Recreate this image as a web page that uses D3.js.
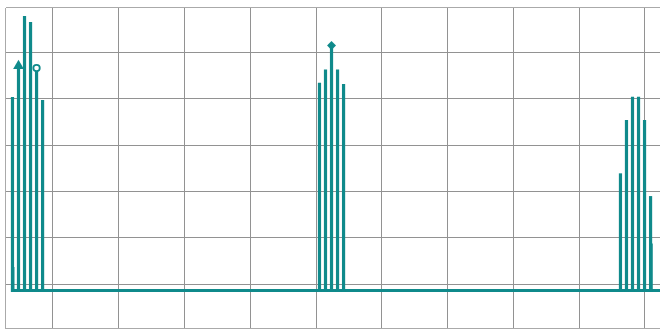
<!DOCTYPE html>
<html>
<head>
<meta charset="utf-8">
<script src="https://cdn.jsdelivr.net/npm/d3@7"></script>
<style>
  html, body { margin: 0; padding: 0; background: #fff; }
  svg { display: block; }
</style>
</head>
<body>
<svg id="chart" width="660" height="331"></svg>
<script>
// Sample positions (index) and peak heights for the three bursts
const burstA = [0, 1, 2, 3, 4, 5];
const burstAVal = [83.4, 96.8, 118.3, 115.7, 95.9, 82.1];
const burstB = [51, 52, 53, 54, 55];
const burstBVal = [89.6, 95.3, 105.6, 95.3, 89.0];
const burstC = [101, 102, 103, 104, 105, 106];
const burstCVal = [50.5, 73.5, 83.5, 83.5, 73.5, 40.7];

// Faint secondary trace
const traceIdx = [0.25, 4.85, 106.3];
const traceVal = [10.1, 5.4, 20.3];

// Marked peaks
const markIdx = [1, 4, 53];
const markShape = ["triangle", "circle", "diamond"];

// Grid positions in data units
const gridX = [6.73, 17.65, 28.58, 39.50, 50.43, 61.35, 72.28, 83.20, 94.13, 105.05];
const gridY = [2.7, 22.7, 42.7, 62.7, 82.7, 102.7];

const xDomain = [-1.16, 107.9];
const yDomain = [-16.4, 122];

const W = 660, H = 331;
const plot = { left: 5.5, top: 7.5, right: 662, bottom: 328.5 };
const teal = "#0f8a8b";

const svg = d3.select("#chart");
const x = d3.scaleLinear().domain(xDomain).range([plot.left, plot.right]);
const y = d3.scaleLinear().domain(yDomain).range([plot.bottom, plot.top]);

// Grid
const grid = svg.append("g").attr("stroke", "#929292").attr("stroke-width", 1).attr("shape-rendering", "crispEdges");
grid.selectAll("line.gx").data(gridX).join("line").attr("class", "gx")
  .attr("x1", d => x(d)).attr("x2", d => x(d))
  .attr("y1", plot.top).attr("y2", plot.bottom);
grid.selectAll("line.gy").data(gridY).join("line").attr("class", "gy")
  .attr("x1", plot.left).attr("x2", W)
  .attr("y1", d => y(d)).attr("y2", d => y(d));

// Frame (left, top, bottom)
const frame = svg.append("g").attr("stroke", "#aaa").attr("stroke-width", 1).attr("shape-rendering", "crispEdges");
frame.append("line").attr("x1", plot.left).attr("x2", plot.left).attr("y1", plot.top).attr("y2", plot.bottom);
frame.append("line").attr("x1", plot.left).attr("x2", W).attr("y1", plot.top).attr("y2", plot.top);
frame.append("line").attr("x1", plot.left).attr("x2", W).attr("y1", plot.bottom).attr("y2", plot.bottom);

// Samples
const samples = [];
[[burstA, burstAVal], [burstB, burstBVal], [burstC, burstCVal]].forEach(([idx, val]) => {
  idx.forEach((d, i) => samples.push({ i: d, v: val[i] }));
});

// Baseline
svg.append("line")
  .attr("x1", x(burstA[0]) - 1.5).attr("x2", W + 5)
  .attr("y1", y(0)).attr("y2", y(0))
  .attr("stroke", teal).attr("stroke-width", 3);

// Faint trace
svg.append("g").selectAll("line").data(traceIdx).join("line")
  .attr("x1", d => x(d)).attr("x2", d => x(d))
  .attr("y1", y(0)).attr("y2", (d, i) => y(traceVal[i]))
  .attr("stroke", teal).attr("stroke-opacity", 0.75).attr("stroke-width", 1.2);

// Spikes
svg.append("g").selectAll("line").data(samples).join("line")
  .attr("x1", d => x(d.i)).attr("x2", d => x(d.i))
  .attr("y1", y(0) + 1.5).attr("y2", d => y(d.v))
  .attr("stroke", teal).attr("stroke-width", 3.2);

// Markers
const byIdx = new Map(samples.map(d => [d.i, d.v]));
markIdx.forEach((m, k) => {
  const cx = x(m), cy = y(byIdx.get(m));
  const shape = markShape[k];
  if (shape === "triangle") {
    svg.append("path").attr("d", d3.symbol(d3.symbolTriangle, 50)())
      .attr("transform", `translate(${cx},${cy})`).attr("fill", teal);
  } else if (shape === "diamond") {
    svg.append("path").attr("d", d3.symbol(d3.symbolSquare, 40)())
      .attr("transform", `translate(${cx},${cy}) rotate(45)`).attr("fill", teal);
  } else {
    svg.append("circle").attr("cx", cx).attr("cy", cy).attr("r", 3.2)
      .attr("fill", "#fff").attr("stroke", teal).attr("stroke-width", 1.8);
  }
});
</script>
</body>
</html>
